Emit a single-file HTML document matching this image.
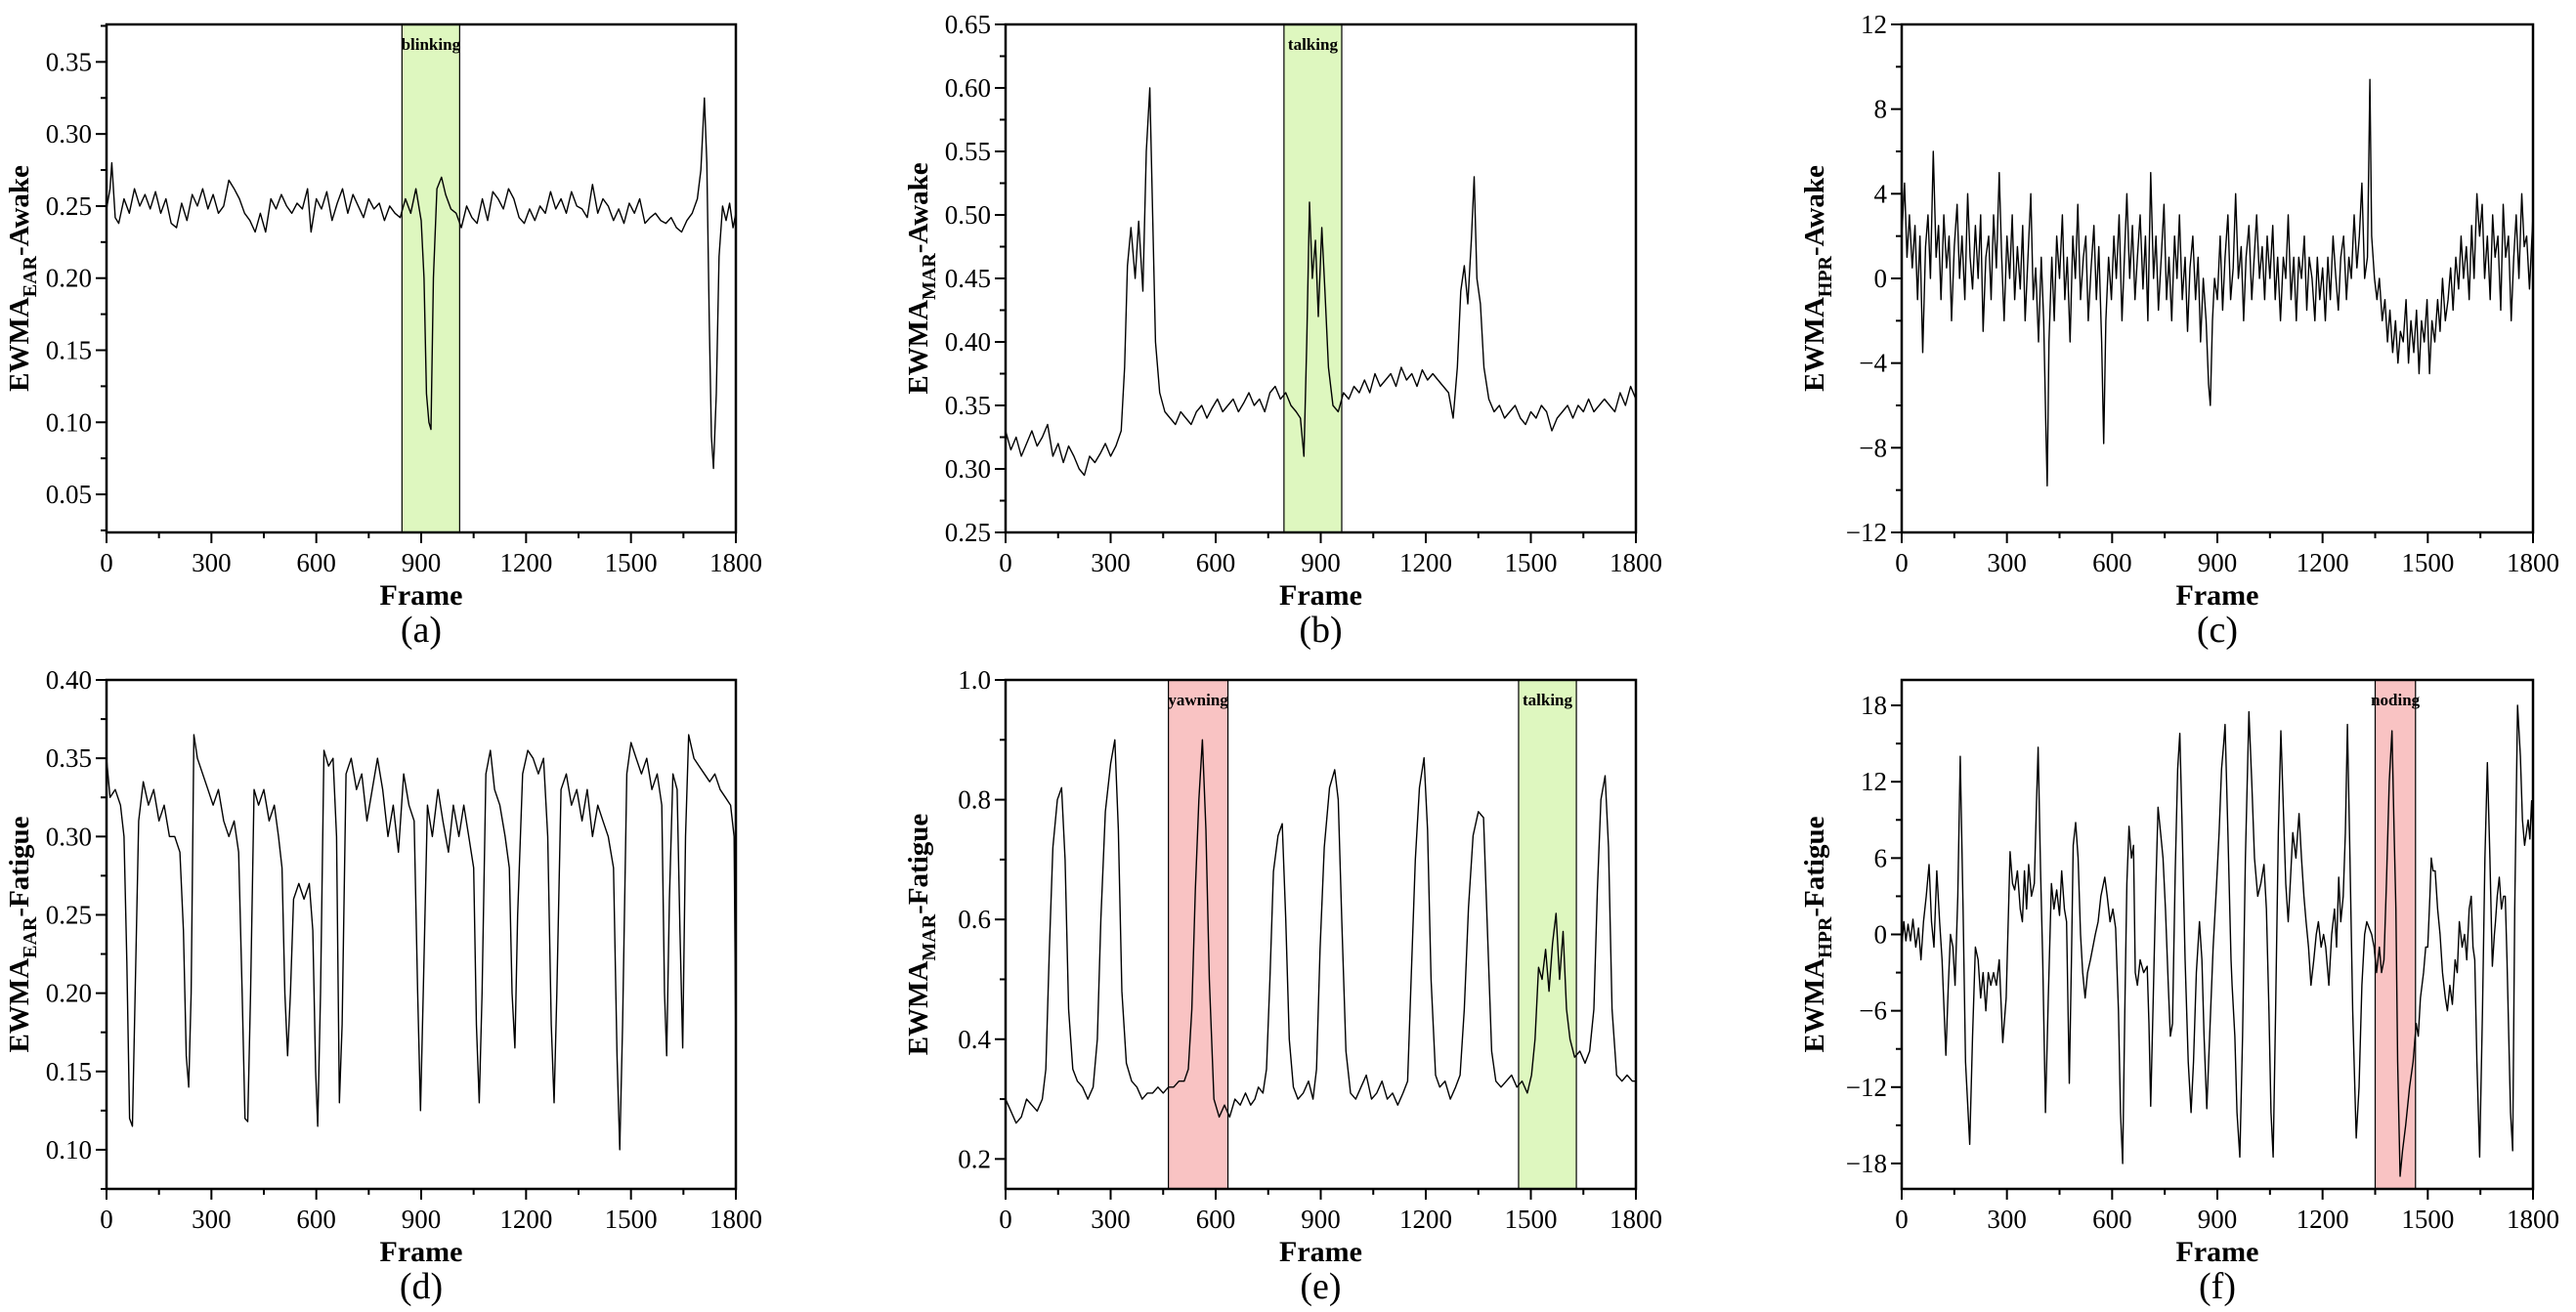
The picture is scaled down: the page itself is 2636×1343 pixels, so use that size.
<!DOCTYPE html>
<html><head><meta charset="utf-8"><style>
html,body{margin:0;padding:0;background:#fff;}
svg{display:block;font-family:"Liberation Serif",serif;}
</style></head><body>
<svg id="fig" width="2636" height="1343" viewBox="0 0 2636 1343"></svg>
<script>
const frameTicks=[0,300,600,900,1200,1500,1800];
const aTicks=[0.05,0.10,0.15,0.20,0.25,0.30,0.35];
const bTicks=[0.25,0.30,0.35,0.40,0.45,0.50,0.55,0.60,0.65];
const cTicks=[-12,-8,-4,0,4,8,12];
const dTicks=[0.10,0.15,0.20,0.25,0.30,0.35,0.40];
const eTicks=[0.2,0.4,0.6,0.8,1.0];
const fTicks=[-18,-12,-6,0,6,12,18];
const aBands=[[845,1010,'blinking','g']];
const bBands=[[795,960,'talking','g']];
const eBands=[[465,635,'yawning','r'],[1465,1630,'talking','g']];
const fBands=[[1350,1465,'noding','r']];
const aPts=[[0,.248],[10,.262],[15,.28],[25,.242],[35,.238],[50,.255],[65,.245],[80,.262],[95,.25],[110,.258],[125,.248],[140,.26],[155,.245],[170,.255],[185,.238],[200,.235],[215,.252],[230,.24],[245,.258],[260,.25],[275,.262],[290,.248],[305,.258],[320,.245],[335,.25],[350,.268],[365,.262],[380,.255],[395,.245],[410,.24],[425,.232],[440,.245],[455,.232],[470,.255],[485,.248],[500,.258],[515,.25],[530,.245],[545,.252],[560,.248],[575,.262],[585,.232],[600,.255],[615,.248],[630,.26],[645,.24],[660,.252],[675,.262],[690,.245],[705,.258],[720,.25],[735,.242],[750,.255],[765,.248],[780,.252],[795,.24],[810,.25],[825,.245],[840,.242],[855,.255],[870,.245],[885,.262],[900,.24],[908,.2],[915,.12],[922,.1],[928,.095],[935,.2],[945,.262],[958,.27],[970,.258],[985,.248],[1000,.245],[1015,.235],[1030,.25],[1045,.242],[1060,.238],[1075,.255],[1090,.24],[1105,.26],[1120,.255],[1135,.248],[1150,.262],[1165,.255],[1180,.242],[1195,.238],[1210,.248],[1225,.24],[1240,.25],[1255,.245],[1270,.26],[1285,.248],[1300,.255],[1315,.245],[1330,.26],[1345,.25],[1360,.248],[1375,.242],[1390,.265],[1405,.245],[1420,.255],[1435,.25],[1450,.24],[1465,.248],[1480,.238],[1495,.252],[1510,.245],[1525,.255],[1540,.238],[1555,.242],[1570,.245],[1585,.24],[1600,.238],[1615,.242],[1630,.235],[1645,.232],[1660,.24],[1675,.245],[1690,.255],[1700,.275],[1710,.325],[1717,.28],[1724,.17],[1730,.09],[1736,.068],[1744,.12],[1752,.215],[1762,.25],[1772,.24],[1782,.252],[1792,.235],[1800,.245]];
const bPts=[[0,.33],[15,.315],[30,.325],[45,.31],[60,.32],[75,.33],[90,.318],[105,.325],[120,.335],[135,.31],[150,.32],[165,.305],[180,.318],[195,.31],[210,.3],[225,.295],[240,.31],[255,.305],[270,.312],[285,.32],[300,.31],[315,.318],[330,.33],[340,.38],[348,.46],[358,.49],[370,.45],[380,.495],[392,.44],[402,.55],[412,.6],[420,.5],[428,.4],[440,.36],[455,.345],[470,.34],[485,.335],[500,.345],[515,.34],[530,.335],[545,.345],[560,.35],[575,.34],[590,.348],[605,.355],[620,.345],[635,.35],[650,.355],[665,.345],[680,.352],[695,.36],[710,.35],[725,.355],[740,.345],[755,.36],[770,.365],[785,.355],[800,.36],[815,.35],[830,.345],[842,.34],[852,.31],[860,.4],[868,.51],[876,.45],[885,.48],[893,.42],[903,.49],[912,.44],[922,.38],[935,.35],[950,.345],[965,.36],[980,.355],[995,.365],[1010,.36],[1025,.37],[1040,.36],[1055,.375],[1070,.365],[1085,.37],[1100,.375],[1115,.365],[1130,.38],[1145,.37],[1160,.375],[1175,.365],[1190,.378],[1205,.37],[1220,.375],[1235,.37],[1250,.365],[1265,.36],[1278,.34],[1290,.38],[1300,.44],[1310,.46],[1320,.43],[1330,.48],[1338,.53],[1346,.45],[1356,.43],[1366,.38],[1380,.355],[1395,.345],[1410,.35],[1425,.34],[1440,.345],[1455,.35],[1470,.34],[1485,.335],[1500,.345],[1515,.34],[1530,.35],[1545,.345],[1560,.33],[1575,.34],[1590,.345],[1605,.35],[1620,.34],[1635,.35],[1650,.345],[1665,.355],[1680,.345],[1695,.35],[1710,.355],[1725,.35],[1740,.345],[1755,.36],[1770,.35],[1785,.365],[1800,.355]];
const cPts=[[0,2],[8,4.5],[15,1],[22,3],[30,0.5],[38,2.5],[45,-1],[52,2],[60,-3.5],[68,1.5],[75,3],[82,0],[90,6],[98,1],[105,2.5],[112,-1],[120,3],[128,0.5],[135,2],[142,-2],[150,1.5],[158,3.5],[165,0],[172,2],[180,-1],[188,4],[195,1],[202,-0.5],[210,2.5],[218,0],[225,3],[232,-2.5],[240,1],[248,2],[255,-1],[262,3],[270,0.5],[278,5],[285,1],[292,-2],[300,2],[308,0],[315,3],[322,-1],[330,1.5],[338,-0.5],[345,2.5],[352,-2],[360,1],[368,4],[375,-1],[382,0.5],[390,-3],[398,1],[405,-2],[411,-7],[415,-9.8],[420,-3],[428,1],[435,-2],[442,2],[450,0],[458,3],[465,-1],[472,1],[480,-3],[488,2],[495,0],[502,3.5],[510,-1],[518,1],[525,2],[532,-2],[540,0.5],[548,2.5],[555,-1],[562,1.5],[570,-3],[576,-7.8],[582,-2],[590,1],[598,-1],[605,2],[612,0],[620,3],[628,-2],[635,1],[642,4],[650,0],[658,2.5],[665,-1],[672,1],[680,3],[688,-0.5],[695,2],[702,-2],[710,5],[718,0],[725,2],[732,-1.5],[740,1],[748,3.5],[755,-1],[762,1],[770,-2],[778,2],[785,0],[792,3],[800,-1],[808,1],[815,-2.5],[822,0.5],[830,2],[838,-1],[845,1],[852,-3],[860,0],[868,-2],[875,-5],[880,-6],[886,-2],[892,0],[900,-1],[908,2],[915,-1.5],[922,1],[930,3],[938,-1],[945,0.5],[952,4],[960,0],[968,1.5],[975,-2],[982,1],[990,2.5],[998,-1],[1005,1],[1012,3],[1020,0],[1028,1.5],[1035,-1],[1042,2],[1050,0],[1058,2.5],[1065,-1],[1072,1],[1080,-2],[1088,1],[1095,0],[1102,3],[1110,-1],[1118,1],[1125,-2],[1132,1],[1140,0],[1148,2],[1155,-1.5],[1162,1],[1170,0],[1178,-2],[1185,1],[1192,-1],[1200,0.5],[1208,-2],[1215,1],[1222,-1],[1230,2],[1238,0],[1245,-1.5],[1252,1],[1260,2],[1268,-1],[1275,1],[1282,0],[1290,3],[1298,0.5],[1305,2],[1312,4.5],[1320,0],[1328,1],[1335,9.4],[1340,2],[1348,0],[1355,-1],[1362,0],[1370,-2],[1378,-1],[1385,-3],[1392,-1.5],[1400,-3.5],[1408,-2],[1415,-4],[1422,-2.5],[1430,-3],[1438,-1],[1445,-4],[1452,-2],[1460,-3.5],[1468,-1.5],[1475,-4.5],[1482,-2],[1490,-3],[1498,-1],[1505,-4.5],[1512,-2],[1520,-3],[1528,-1],[1535,-2.5],[1542,0],[1550,-2],[1558,-1],[1565,0.5],[1572,-1.5],[1580,1],[1588,-0.5],[1595,2],[1602,0],[1610,1.5],[1618,-1],[1625,2.5],[1632,0],[1640,4],[1648,2],[1655,3.5],[1662,0],[1670,2],[1678,-1],[1685,3],[1692,1],[1700,2],[1708,-1.5],[1715,3.5],[1722,1],[1730,2],[1738,-2],[1745,1],[1752,3],[1760,0],[1768,4],[1775,1.5],[1782,2],[1790,-0.5],[1800,3]];
const dPts=[[0,.35],[10,.325],[25,.33],[40,.32],[50,.3],[58,.22],[66,.12],[74,.115],[82,.2],[92,.31],[105,.335],[120,.32],[135,.33],[150,.31],[165,.32],[180,.3],[195,.3],[210,.29],[220,.24],[228,.16],[235,.14],[242,.2],[250,.365],[260,.35],[275,.34],[290,.33],[305,.32],[320,.33],[335,.31],[350,.3],[365,.31],[378,.29],[388,.2],[396,.12],[404,.118],[412,.2],[422,.33],[435,.32],[450,.33],[465,.31],[480,.32],[492,.3],[502,.28],[510,.2],[518,.16],[526,.2],[535,.26],[550,.27],[565,.26],[580,.27],[590,.24],[598,.15],[604,.115],[612,.2],[622,.355],[635,.345],[648,.35],[658,.3],[666,.13],[674,.18],[685,.34],[700,.35],[715,.33],[730,.34],[745,.31],[760,.33],[775,.35],[790,.33],[805,.3],[820,.32],[835,.29],[850,.34],[865,.32],[880,.31],[890,.2],[898,.125],[906,.2],[918,.32],[932,.3],[948,.33],[962,.31],[978,.29],[992,.32],[1008,.3],[1022,.32],[1036,.3],[1050,.28],[1058,.18],[1066,.13],[1074,.2],[1085,.34],[1098,.355],[1110,.33],[1125,.32],[1140,.3],[1152,.28],[1160,.2],[1168,.165],[1176,.25],[1190,.34],[1205,.355],[1220,.35],[1235,.34],[1250,.35],[1262,.3],[1272,.18],[1280,.13],[1288,.2],[1300,.33],[1315,.34],[1330,.32],[1345,.33],[1360,.31],[1375,.33],[1390,.3],[1405,.32],[1420,.31],[1435,.3],[1450,.28],[1460,.16],[1468,.1],[1476,.18],[1488,.34],[1500,.36],[1515,.35],[1530,.34],[1545,.35],[1560,.33],[1575,.34],[1588,.32],[1596,.2],[1602,.16],[1610,.26],[1620,.34],[1632,.33],[1640,.24],[1648,.165],[1656,.3],[1665,.365],[1680,.35],[1695,.345],[1710,.34],[1725,.335],[1740,.34],[1755,.33],[1770,.325],[1785,.32],[1795,.3],[1800,.16]];
const ePts=[[0,.3],[15,.28],[30,.26],[45,.27],[60,.3],[75,.29],[90,.28],[105,.3],[115,.35],[125,.55],[135,.72],[148,.8],[160,.82],[170,.7],[180,.45],[192,.35],[205,.33],[220,.32],[235,.3],[250,.32],[262,.4],[272,.6],[285,.78],[300,.86],[312,.9],[322,.75],[332,.48],[345,.36],[360,.33],[375,.32],[390,.3],[405,.31],[420,.31],[435,.32],[450,.31],[465,.32],[480,.32],[495,.33],[510,.33],[522,.35],[532,.45],[542,.65],[552,.8],[562,.9],[572,.75],[582,.5],[595,.3],[610,.27],[625,.29],[640,.27],[655,.3],[670,.29],[685,.31],[700,.29],[712,.3],[722,.32],[735,.31],[745,.35],[755,.5],[765,.68],[778,.74],[790,.76],[800,.6],[810,.4],[822,.32],[835,.3],[850,.31],[865,.33],[878,.3],[888,.35],[898,.55],[910,.72],[925,.82],[940,.85],[950,.8],[960,.6],[972,.38],[985,.31],[1000,.3],[1015,.32],[1030,.34],[1045,.3],[1060,.31],[1075,.33],[1090,.3],[1105,.31],[1120,.29],[1135,.31],[1148,.33],[1158,.5],[1170,.7],[1182,.82],[1195,.87],[1205,.75],[1215,.5],[1228,.34],[1240,.32],[1255,.33],[1270,.3],[1285,.32],[1298,.34],[1310,.45],[1322,.62],[1335,.74],[1350,.78],[1365,.77],[1375,.6],[1388,.38],[1400,.33],[1415,.32],[1430,.33],[1445,.34],[1460,.32],[1475,.33],[1490,.31],[1502,.34],[1512,.4],[1522,.52],[1532,.5],[1542,.55],[1552,.48],[1562,.56],[1572,.61],[1582,.5],[1592,.58],[1602,.45],[1612,.4],[1625,.37],[1640,.38],[1655,.36],[1668,.38],[1680,.45],[1690,.65],[1700,.8],[1712,.84],[1722,.72],[1732,.45],[1745,.34],[1760,.33],[1775,.34],[1790,.33],[1800,.33]];
const fPts=[[0,-1],[6,1],[12,-0.5],[18,0.8],[25,-0.5],[32,1.2],[40,-1],[48,0.5],[55,-2],[62,1],[70,3],[78,5.5],[85,1],[92,-1],[100,5],[108,1],[115,-2],[126,-9.5],[133,-4],[139,0],[146,-1],[152,-4],[160,3],[167,14],[175,2],[182,-10],[194,-16.5],[202,-8],[210,-1],[218,-2],[225,-5],[232,-3],[240,-6],[247,-3],[254,-4],[262,-3],[270,-4],[278,-2],[288,-8.5],[298,-5],[309,6.5],[316,4],[322,3.5],[330,5],[338,2],[344,1],[350,5],[356,2],[362,5.5],[370,3],[378,4],[384,10],[389,14.7],[396,5],[402,-2],[410,-14],[418,-5],[427,4],[434,2],[442,3.5],[450,1.5],[456,5],[464,2],[470,1],[478,-11.7],[484,-2],[489,7],[496,8.8],[503,6],[510,0],[516,-3],[523,-5],[530,-3],[538,-2],[545,-1],[552,0],[560,1],[568,3],[579,4.5],[586,3],[594,1],[602,2],[610,0.5],[618,-6],[624,-14],[630,-18],[636,-6],[642,4],[648,8.5],[655,6],[661,7],[666,-3],[672,-4],[680,-2],[690,-3],[700,-2.5],[705,-7],[710,-13.5],[718,-4],[724,3],[731,10],[738,8],[745,6],[752,2],[760,-4],[766,-8],[772,-7],[780,5],[787,13],[793,15.8],[800,8],[808,-2],[817,-10],[825,-14],[832,-10],[840,-3],[849,1],[856,-2],[862,-8],[870,-13.7],[878,-8],[888,-1],[897,3.5],[905,8],[912,13],[918,15],[922,16.5],[930,8],[939,-2],[942,-4],[950,-8],[956,-14],[964,-17.5],[972,-8],[980,6],[990,17.5],[998,12],[1006,6],[1015,3],[1024,4],[1033,5.5],[1040,2],[1047,-6],[1053,-14],[1059,-17.5],[1066,-6],[1074,8],[1081,16],[1088,10],[1095,4],[1102,1],[1108,4],[1115,8],[1124,6],[1133,9.5],[1140,6],[1147,3],[1153,1],[1160,-1],[1167,-4],[1175,-2],[1182,0],[1188,1],[1196,-1],[1203,0],[1209,-1],[1218,-4],[1226,0],[1234,2],[1240,-1],[1246,4.5],[1252,1],[1259,3],[1265,8],[1271,16.5],[1278,6],[1286,-6],[1296,-16],[1304,-12],[1312,-4],[1320,0],[1326,1],[1333,0.5],[1340,0],[1347,-1],[1354,-3],[1362,-1],[1368,-3],[1375,-2],[1382,4],[1390,12],[1398,16],[1404,8],[1409,2],[1414,-10],[1421,-19],[1428,-17],[1437,-15],[1448,-12],[1458,-10],[1467,-7],[1473,-8],[1479,-5],[1488,-3],[1494,-1],[1500,-1],[1506,3],[1510,6],[1515,5],[1521,5],[1528,2],[1535,0],[1542,-3],[1550,-5],[1556,-6],[1563,-4],[1570,-5.5],[1578,-2],[1584,-3],[1590,1],[1598,-1],[1605,0],[1611,-2],[1618,2],[1624,3],[1629,-1],[1634,-2],[1640,-10],[1648,-17.5],[1656,-6],[1663,6],[1670,13.5],[1677,6],[1684,-2.5],[1690,0],[1693,1],[1698,3],[1704,4.5],[1710,2],[1716,3],[1721,3],[1726,-2],[1731,-8],[1736,-14],[1742,-17],[1748,2],[1756,18],[1764,14],[1770,9],[1776,7],[1781,8],[1786,9],[1791,7.5],[1796,10.5],[1800,8]];

const NS='http://www.w3.org/2000/svg';
const svg=document.getElementById('fig');
function mk(tag,attrs,parent){const e=document.createElementNS(NS,tag);for(const k in attrs)e.setAttribute(k,attrs[k]);(parent||svg).appendChild(e);return e;}

function panel(o){
  const g=mk('g',{});
  
  
  const X=v=>o.x0+(v-0)/1800*(o.x1-o.x0);
  const Y=v=>o.y1-(v-o.ymin)/(o.ymax-o.ymin)*(o.y1-o.y0);
  o.bands.forEach(b=>{
    const r=mk('rect',{x:X(b[0]),y:o.y0,width:X(b[1])-X(b[0]),height:o.y1-o.y0,fill:b[3]==='g'?'#def7bf':'#f9c3c3',stroke:'#000','stroke-width':1.2},g);
    
    
    const t=mk('text',{x:(X(b[0])+X(b[1]))/2,y:o.y0+26,'text-anchor':'middle','font-size':17,'font-weight':'bold'},g);
    t.textContent=b[2];
    
    
  });
  const d=o.pts.map((p,i)=>(i?'L':'M')+X(p[0]).toFixed(1)+','+Y(p[1]).toFixed(1)).join('');
  const line=mk('path',{d:d,fill:'none',stroke:'#000','stroke-width':1.4,'stroke-linejoin':'round'},g);
  
  
  const fr=mk('rect',{x:o.x0,y:o.y0,width:o.x1-o.x0,height:o.y1-o.y0,fill:'none',stroke:'#000','stroke-width':2.5},g);
  
  
  for(let f=0;f<=1800;f+=150){const maj=f%300===0;mk('line',{x1:X(f),x2:X(f),y1:o.y1,y2:o.y1+(maj?11:6),stroke:'#000','stroke-width':2},g);}
  frameTicks.forEach(f=>{const t=mk('text',{x:X(f),y:o.y1+40,'text-anchor':'middle','font-size':27},g);t.textContent=f;
    
    });
  const step=o.ticks[1]-o.ticks[0];
  for(let v=o.ticks[0]-step;v<=o.ymax+1e-9;v+=step/2){if(v<o.ymin-1e-9)continue;const k=Math.round((v-o.ticks[0])/(step/2));const maj=k%2===0;mk('line',{x1:o.x0,x2:o.x0-(maj?11:6),y1:Y(v),y2:Y(v),stroke:'#000','stroke-width':2},g);}
  o.ticks.forEach(v=>{const t=mk('text',{x:o.x0-15,y:Y(v)+9,'text-anchor':'end','font-size':27},g);t.textContent=o.fmt(v);
    
    });
  const xt=mk('text',{x:(o.x0+o.x1)/2,y:o.y1+74,'text-anchor':'middle','font-size':30,'font-weight':'bold'},g);
  xt.textContent='Frame';
  
  
  const cap=mk('text',{x:(o.x0+o.x1)/2,y:o.y1+112,'text-anchor':'middle','font-size':38},g);
  cap.textContent='('+o.id+')';
  
  
  const cy=(o.y0+o.y1)/2, cx=o.x0-80;
  const yt=mk('text',{x:cx,y:cy,'text-anchor':'middle','font-size':29,'font-weight':'bold',transform:`rotate(-90 ${cx} ${cy})`},g);
  
  
  const s1=mk('tspan',{},yt);s1.textContent='EWMA';
  const s2=mk('tspan',{dy:8,'font-size':20},yt);s2.textContent=o.sub;
  const s3=mk('tspan',{dy:-8},yt);s3.textContent='-'+o.state;
}
const f2=v=>v.toFixed(2), f1=v=>v.toFixed(1), f0=v=>String(v).replace('-','\u2212');
const R1=[25,545],R2=[696,1217];
const C1=[109,753],C2=[1029,1674],C3=[1946,2592];
panel({id:'a',x0:C1[0],x1:C1[1],y0:R1[0],y1:R1[1],ymin:0.0236,ymax:0.376,ticks:aTicks,fmt:f2,pts:aPts,bands:aBands,sub:'EAR',state:'Awake'});
panel({id:'b',x0:C2[0],x1:C2[1],y0:R1[0],y1:R1[1],ymin:0.25,ymax:0.65,ticks:bTicks,fmt:f2,pts:bPts,bands:bBands,sub:'MAR',state:'Awake'});
panel({id:'c',x0:C3[0],x1:C3[1],y0:R1[0],y1:R1[1],ymin:-12,ymax:12,ticks:cTicks,fmt:f0,pts:cPts,bands:[],sub:'HPR',state:'Awake'});
panel({id:'d',x0:C1[0],x1:C1[1],y0:R2[0],y1:R2[1],ymin:0.075,ymax:0.40,ticks:dTicks,fmt:f2,pts:dPts,bands:[],sub:'EAR',state:'Fatigue'});
panel({id:'e',x0:C2[0],x1:C2[1],y0:R2[0],y1:R2[1],ymin:0.15,ymax:1.0,ticks:eTicks,fmt:f1,pts:ePts,bands:eBands,sub:'MAR',state:'Fatigue'});
panel({id:'f',x0:C3[0],x1:C3[1],y0:R2[0],y1:R2[1],ymin:-20,ymax:20,ticks:fTicks,fmt:f0,pts:fPts,bands:fBands,sub:'HPR',state:'Fatigue'});
</script>
</body></html>
